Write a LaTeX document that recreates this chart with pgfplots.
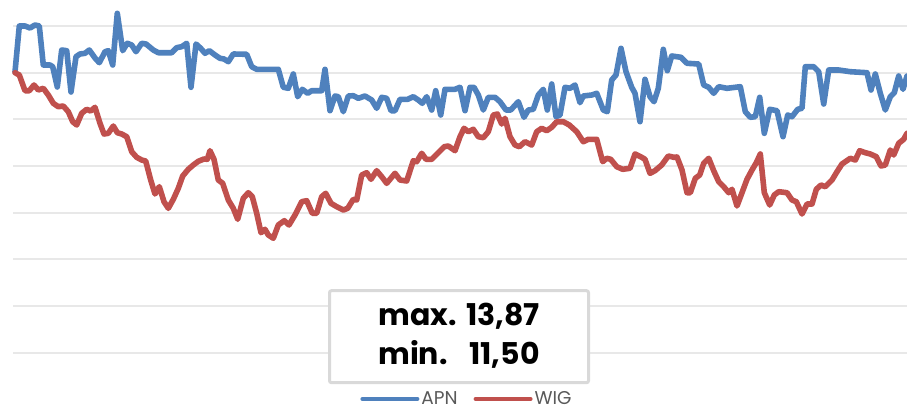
\documentclass[border=0pt]{standalone}
\usepackage{pgfplots}
\pgfplotsset{compat=1.18}
\usepackage{pgfplotstable}
\usepackage{fontspec}
\setmainfont{Poppins}
\definecolor{apn}{HTML}{4F81BD}
\definecolor{wig}{HTML}{C0504D}
\definecolor{gridc}{HTML}{E8E8E8}
\definecolor{boxgray}{HTML}{D9D9D9}
\definecolor{legendgray}{HTML}{595959}

\pgfplotstableread{
x y
15 72
19.3 26
25 26
30 28
35 25
39.3 26
43.3 65
50 65
52.7 66.7
57.3 87
61.7 50
66.7 50.7
71 92
76 56.7
80 54
85 53.3
89.3 50
95 58
99.3 62.7
105 51.7
108.3 50.7
112.7 65
117.3 13.3
122.7 50.7
127.3 43.3
131.7 45
136 51.7
141.7 43.3
146 44
153.3 50
158.3 52.7
171.7 52.7
176.7 47.7
181.7 46.7
186.7 43.3
191 87.3
196 44
200.7 48.3
205 53.3
209.3 50.7
215 55
220 58.3
224 59
228.3 61.7
233.3 54
246.7 54.3
251.7 66.7
256.7 69.3
278.3 69.3
283.3 87.3
288.3 88.3
293.3 74
297.7 96.7
302.3 89.3
307.7 93.3
311.7 90.7
321.7 90.7
325 69.3
330 110.7
335 96
338.3 96.7
343.3 111.7
348.3 96
353.3 95.7
358.3 98.3
365 96
371.7 100
376.7 108.3
381.7 97.3
386.7 98.3
391 110.7
395 110.7
400 99.3
407.7 99.3
413.3 96.7
418.3 100
422.3 103.3
426.7 96.7
431.7 110
435.7 90.7
440.7 115
445 89.3
455 89.3
460 87.3
465 110.7
470 87.3
474 87.3
478.3 95
483.3 110
488.3 97.3
495 97.3
500 101.7
506 110
510.7 110
518.3 101.7
524 117.3
528.3 110
533.3 109.3
538.3 95
543.3 89.3
547.3 110
551.7 84
556 116.7
560 115
565 87.3
570 88.3
575 85
580 102.7
583.3 96
591.7 95
596.7 93.3
603.3 110
607.3 111.7
611.7 80
616 75
621 48.3
626 71.7
631.7 87.3
635 93.3
640 121.7
645 79.3
650 96.7
654 101.7
658.3 88.3
663.3 49.3
667.3 70.7
671.7 56
681 57.3
687 63.3
698.7 64
703.7 85
708.7 87.3
713.7 93.3
718.7 86.7
727 88.3
740.3 86.7
745.3 111.7
750.3 117.3
755.3 116.7
759.7 97.3
764.3 133.3
769.7 109.3
777 110.7
783 136.7
787.7 115
792 116.7
797.7 109.3
802 108.3
805.3 66.7
813.7 66.7
818.7 71.7
823.7 104
828.7 70
838.7 70
850.3 71.7
867 72.7
871 90
875.3 74
880.3 93.3
885.3 110
890.3 96.7
894.3 92.7
898.7 76
903 89.3
907 76
}\apntable

\pgfplotstableread{
x y
15 72.7
19.3 75
25 90.7
29.3 90.7
34 85
38.3 90
43.3 88.3
48.3 95
53.3 103.3
58.3 106.7
63.3 106
68.3 111.7
72.7 121.7
76.7 125
81.7 113.3
86.7 109.3
90.7 111
95 107.3
100 123.3
104 134
108.3 133.3
113.3 126
117.3 132.7
121.7 134
126.7 136.7
131.7 151.7
136.7 157.3
141.7 160
145.7 161
150.7 180
155 194
159.3 186.7
164 201.7
168.3 208.3
173.3 199.3
178.3 188.3
182.7 176
188.3 169.3
193.3 165
198.3 161.3
204 159
207.3 159.3
210 150.7
214 159.3
218.3 180
222.7 183.3
228.3 200
233.3 208.3
237.7 219.3
243.3 198.3
248.3 192.7
252.3 196.7
256.7 213.3
261 232.7
265 229.3
268.3 235
273.3 238.3
278.3 225
284.3 220.7
289 225
295 215
301.7 201.7
306.7 200.7
312.3 213.3
316.7 213.3
321.7 196.7
325.7 193.3
331 203.3
336.7 206.7
343.3 210
347.7 208.3
353.3 199.3
356.7 200
361.7 175
366.7 172.7
371 179.3
376.7 170.7
381.7 176.7
386.7 183.3
395 173.3
400 180
406.7 181
413.3 160.7
416.7 161.7
421.7 153.3
426 159.3
431.7 159.3
438.3 152.7
444.3 146.7
448.3 146
455 150.7
460 136.7
464 128.3
468.3 131.7
473.3 129.3
478.3 136.7
483.3 137.7
488.3 131.7
493.3 115
497.3 114
501.7 124
505 118.3
510 136.7
515 145
519.3 146.7
525 141.7
531.7 145
536.7 131.7
541.7 128.3
546.7 130.7
551.7 127.3
556.7 121.7
563.3 121.7
569.3 125
576.7 131.7
583.3 141.7
588.3 139.3
596.7 139.3
602.7 161.7
606.7 158.3
610.7 159.3
616.7 166.7
622.7 169.3
630 168.3
635 154
641.7 157.3
645 159.3
650 173.3
655 170.7
661.7 165
668.3 156
674 157.3
677 157
682 170
687 192.7
690.3 192.7
695.3 178.3
699.7 175
703.7 163.3
708.7 158.3
713.7 170.7
718.7 181.7
723.7 186.7
728.7 192.7
732 189.3
737 206
742 192.7
747 179.3
752 170
756.3 162.7
760.3 154
764.3 192.7
769.7 205
774.3 195
778.7 191.7
787 192.7
792 200
796.3 201.7
802 214
807 204
812 204
816.3 189.3
821 185
825.3 186.7
832 180
837 171.7
842 164
850.3 158.3
855.3 160
859.7 150.7
865.3 152.7
870.3 154
876.3 156.7
881 166
885.3 165
890.3 150
893.7 155
898.7 143.3
903.7 139.3
907 133.3
}\wigtable

\begin{document}
\begin{tikzpicture}
\useasboundingbox (0pt,0pt) rectangle (907pt,-412pt);
\begin{axis}[
  at={(13.5pt,-352.67pt)}, anchor=south west,
  scale only axis,
  width=893.5pt, height=352.67pt,
  xmin=13.5, xmax=907,
  ymin=-352.67, ymax=0,
  axis line style={draw=none},
  tick style={draw=none},
  xtick=\empty,
  ytick={-352.67,-306,-259.33,-212.67,-166,-119.33,-72.67,-26},
  yticklabels={},
  ymajorgrids=true,
  major grid style={draw=gridc, line width=2pt},
  clip=false,
  legend columns=2,
  legend style={at={(axis cs:467,-399)}, anchor=center, draw=none, fill=none,
    font=\fontsize{18.5}{19}\selectfont\color{legendgray},
    /tikz/every even column/.append style={column sep=14pt},
    inner sep=0pt},
  legend image code/.code={\draw[#1,line width=4pt] (0pt,0pt) -- (55pt,0pt);},
  every axis plot/.append style={line width=5.6pt, line join=round, line cap=round},
]
\addplot[color=apn] table[x=x, y expr=-\thisrow{y}] {\apntable};
\addlegendentry{APN}
\addplot[color=wig] table[x=x, y expr=-\thisrow{y}] {\wigtable};
\addlegendentry{WIG}
\node[draw=boxgray, line width=3pt, rounded corners=2pt, fill=white,
  minimum width=259pt, minimum height=92pt,
  font=\fontsize{30}{39}\selectfont\bfseries] at (axis cs:459,-336.7)
  {\begin{tabular}{@{}l@{\hspace{9.5pt}}r@{}}max. & 13,87\\ min. & 11,50\end{tabular}};
\end{axis}
\end{tikzpicture}
\end{document}
